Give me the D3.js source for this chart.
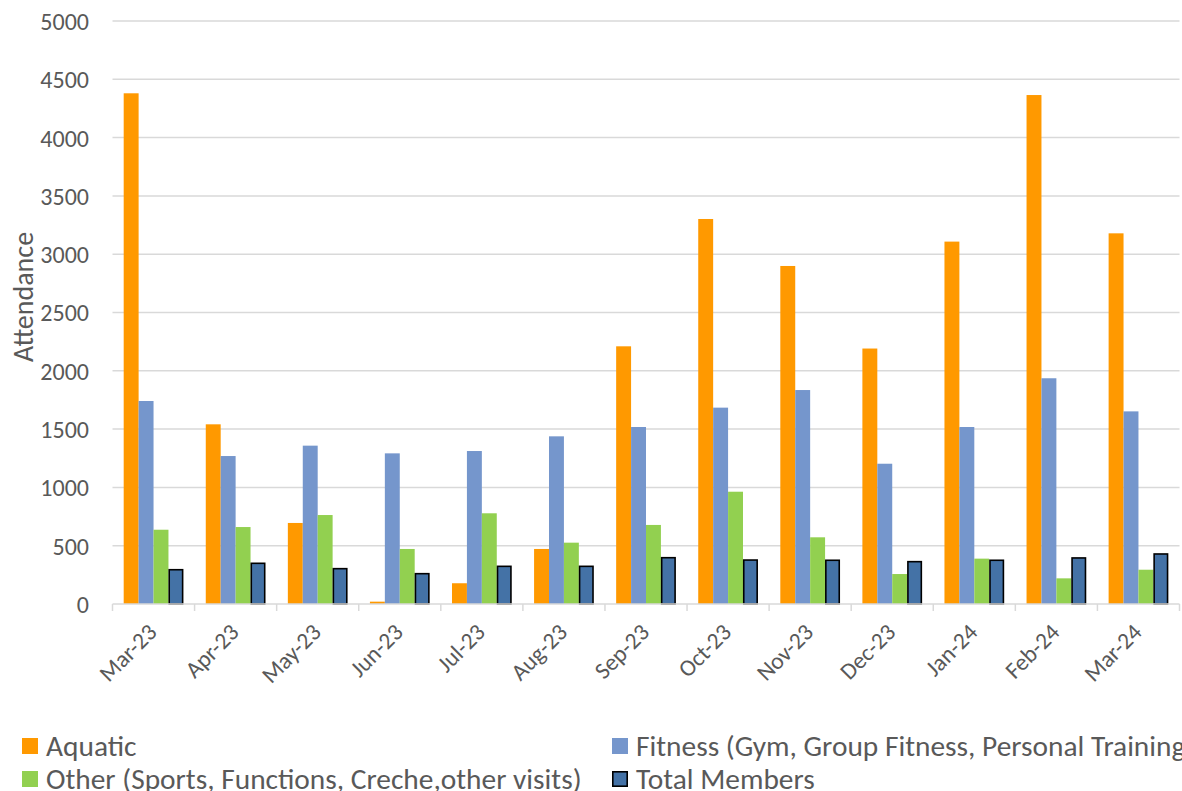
<!DOCTYPE html>
<html>
<head>
<meta charset="utf-8">
<script src="https://cdn.jsdelivr.net/npm/d3@7"></script>
<style>
  html, body { margin: 0; padding: 0; background: #fff; }
  svg { display: block; }
  text { font-family: Carlito, Calibri, "Liberation Sans", sans-serif; fill: #595959; }
</style>
</head>
<body>
<svg id="chart" width="1182" height="791"></svg>
<script>
// Monthly attendance by activity type
const months = ["Mar-23","Apr-23","May-23","Jun-23","Jul-23","Aug-23","Sep-23","Oct-23","Nov-23","Dec-23","Jan-24","Feb-24","Mar-24"];
const aquatic = [4380, 1541, 695, 20, 178, 472, 2210, 3302, 2899, 2191, 3108, 4365, 3179];
const fitness = [1741, 1269, 1358, 1292, 1312, 1438, 1518, 1684, 1835, 1203, 1518, 1936, 1652];
const other   = [637, 660, 763, 472, 778, 526, 678, 963, 572, 257, 389, 220, 294];
const members = [294, 349, 303, 260, 323, 323, 397, 377, 375, 363, 375, 395, 429];
const yTicks  = [0, 500, 1000, 1500, 2000, 2500, 3000, 3500, 4000, 4500, 5000];

const seriesNames = ["Aquatic", "Fitness (Gym, Group Fitness, Personal Training)", "Other (Sports, Functions, Creche,other visits)", "Total Members"];
const seriesValues = [aquatic, fitness, other, members];
const colors = ["#FF9900", "#7596CC", "#92D050", "#4472A6"];

const svg = d3.select("#chart");
const plotLeft = 112.5, plotRight = 1179.5, plotTop = 21, plotBottom = 604;

const x = d3.scaleBand().domain(months).range([plotLeft, plotRight]).paddingInner(0).paddingOuter(0);
const y = d3.scaleLinear().domain([0, 5000]).range([plotBottom, plotTop]);

// bars take 4 of 5.5 bar-widths per band (150% gap)
const barW = x.bandwidth() / 5.5;
const groupOffset = (x.bandwidth() - 4 * barW) / 2;
const x1 = d3.scaleBand().domain(d3.range(4)).range([0, 4 * barW]);

// horizontal gridlines
svg.append("g")
  .selectAll("line")
  .data(yTicks.filter(d => d > 0))
  .join("line")
  .attr("x1", plotLeft).attr("x2", plotRight)
  .attr("y1", d => y(d)).attr("y2", d => y(d))
  .attr("stroke", "#d9d9d9").attr("stroke-width", 1.5);

// y axis labels
const yAxis = d3.axisLeft(y).tickValues(yTicks).tickFormat(d3.format("d")).tickSize(0).tickPadding(0);
const gy = svg.append("g").attr("transform", `translate(89,0)`).call(yAxis);
gy.select(".domain").remove();
gy.selectAll("text").style("font-size", "24px").attr("fill", "#595959").attr("dy", "0.35em");

// bars
const groups = svg.append("g")
  .selectAll("g")
  .data(months.map((m, i) => ({ m, vals: seriesValues.map(s => s[i]) })))
  .join("g")
  .attr("transform", d => `translate(${x(d.m) + groupOffset},0)`);

groups.selectAll("rect")
  .data(d => d.vals.map((v, k) => ({ v, k })))
  .join("rect")
  .attr("x", d => x1(d.k) + (d.k === 3 ? 0.75 : 0))
  .attr("width", d => d.k === 3 ? barW - 1.5 : barW)
  .attr("y", d => y(d.v))
  .attr("height", d => y(0) - y(d.v))
  .attr("fill", d => colors[d.k])
  .attr("stroke", d => d.k === 3 ? "#000" : "none")
  .attr("stroke-width", d => d.k === 3 ? 1.6 : 0);

// x axis baseline with band boundary ticks
const xAxis = d3.axisBottom(x).tickSize(0).tickFormat("");
const gx = svg.append("g").attr("transform", `translate(0,${plotBottom})`).call(xAxis);
gx.select(".domain").attr("stroke", "#d9d9d9").attr("stroke-width", 1.5).attr("d", `M${plotLeft},0H${plotRight}`);
gx.selectAll(".tick").remove();
svg.append("g")
  .selectAll("line")
  .data(months.map(m => x(m)).concat([plotRight]))
  .join("line")
  .attr("x1", d => d).attr("x2", d => d)
  .attr("y1", plotBottom).attr("y2", plotBottom + 7)
  .attr("stroke", "#d9d9d9").attr("stroke-width", 1.5);

// rotated category labels
svg.append("g")
  .selectAll("text")
  .data(months)
  .join("text")
  .attr("transform", d => `translate(${x(d) + x.bandwidth() / 2 - 7},${plotBottom + 18}) rotate(-45)`)
  .attr("text-anchor", "end")
  .attr("dy", "0.7em")
  .style("font-size", "23.5px")
  .text(d => d);

// y axis title
svg.append("text")
  .attr("transform", `translate(23,297) rotate(-90)`)
  .attr("text-anchor", "middle")
  .attr("dy", "0.35em")
  .style("font-size", "28px")
  .text("Attendance");

// legend
const legendPos = [[22, 746], [612, 746], [22, 779], [612, 779]];
const lg = svg.append("g")
  .selectAll("g")
  .data(seriesNames.map((n, k) => ({ n, k })))
  .join("g")
  .attr("transform", d => `translate(${legendPos[d.k][0]},${legendPos[d.k][1]})`);
lg.append("rect")
  .attr("x", d => d.k === 3 ? 0.8 : 0)
  .attr("y", d => d.k === 3 ? -7.2 : -8)
  .attr("width", d => d.k === 3 ? 14.4 : 16)
  .attr("height", d => d.k === 3 ? 14.4 : 16)
  .attr("fill", d => colors[d.k])
  .attr("stroke", d => d.k === 3 ? "#000" : "none")
  .attr("stroke-width", 1.6);
lg.append("text")
  .attr("x", 24)
  .attr("dy", "0.35em")
  .style("font-size", "29.4px")
  .text(d => d.n);
</script>
</body>
</html>
